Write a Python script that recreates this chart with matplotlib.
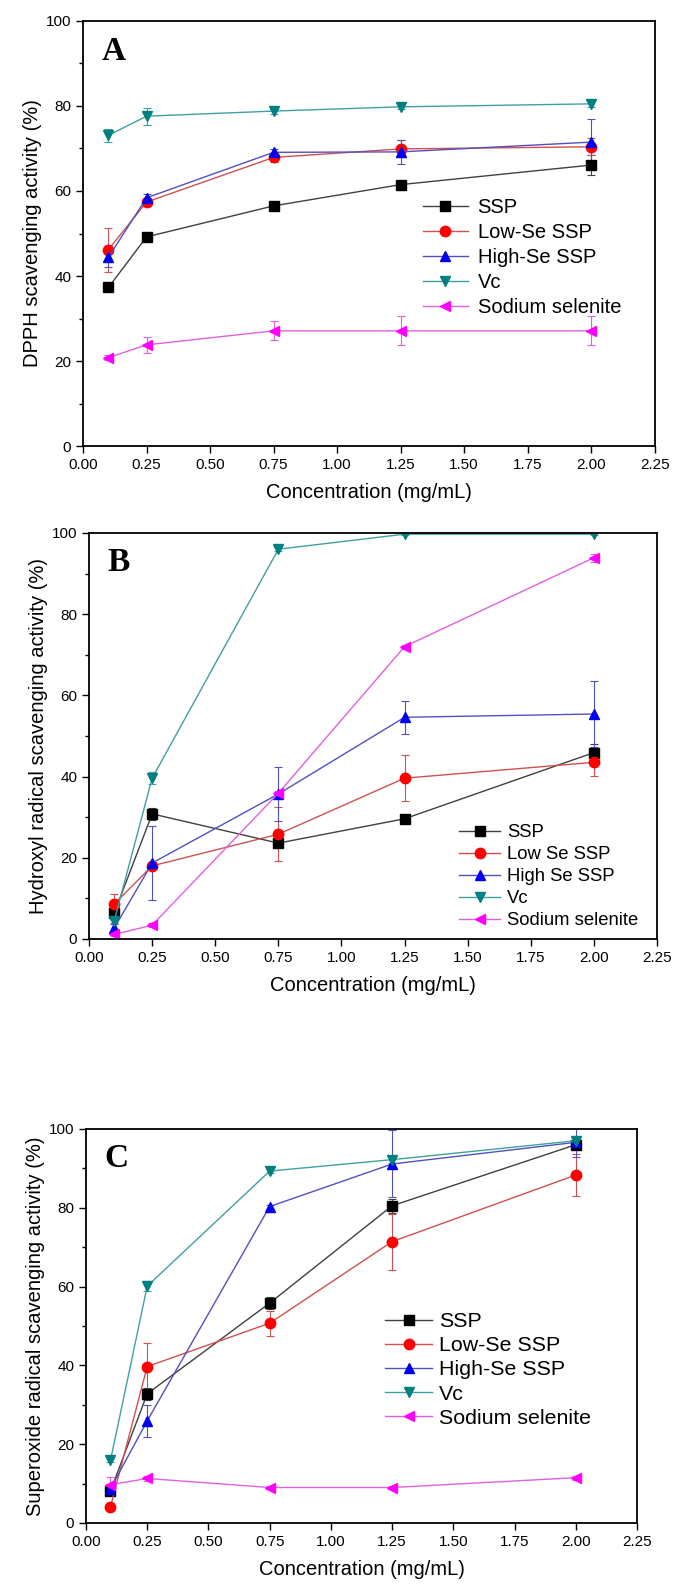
import matplotlib
matplotlib.use("Agg")
import matplotlib.pyplot as plt
from matplotlib.ticker import MultipleLocator, FormatStrFormatter

plt.rcParams['font.family'] = ['Liberation Sans', 'DejaVu Sans']

conc = [0.1, 0.25, 0.75, 1.25, 2.0]

# panel A - DPPH
a_ssp = [37.3, 49.2, 56.5, 61.5, 66.1]
a_ssp_err = [0.8, 1.0, 0.8, 0.8, 2.4]
a_low = [46.2, 57.4, 67.9, 69.9, 70.4]
a_low_err = [5.2, 1.0, 1.0, 2.0, 2.0]
a_high = [44.4, 58.4, 69.1, 69.2, 71.5]
a_high_err = [2.2, 1.0, 0.8, 2.9, 5.5]
a_vc = [73.1, 77.6, 78.8, 79.8, 80.5]
a_vc_err = [1.5, 2.0, 0.6, 0.6, 0.8]
a_na = [20.8, 23.8, 27.1, 27.1, 27.1]
a_na_err = [0.6, 1.8, 2.2, 3.4, 3.4]

# panel B - hydroxyl
b_ssp = [6.4, 30.8, 23.6, 29.6, 45.9]
b_ssp_err = [1.5, 1.5, 0.8, 0.8, 2.0]
b_low = [8.6, 18.0, 25.8, 39.6, 43.5]
b_low_err = [2.5, 1.0, 6.6, 5.7, 3.4]
b_high = [2.7, 18.7, 35.7, 54.6, 55.4]
b_high_err = [1.0, 9.2, 6.6, 4.1, 8.1]
b_vc = [4.5, 39.6, 96.0, 99.7, 99.7]
b_vc_err = [0.5, 1.5, 0.5, 0.3, 0.3]
b_na = [1.1, 3.4, 35.9, 72.0, 93.9]
b_na_err = [0.3, 0.5, 0.5, 0.5, 1.0]

# panel C - superoxide
c_ssp = [8.1, 32.8, 55.8, 80.5, 96.0]
c_ssp_err = [1.0, 1.5, 1.5, 1.8, 1.0]
c_low = [4.1, 39.7, 50.7, 71.4, 88.3]
c_low_err = [0.5, 6.1, 3.2, 7.1, 5.4]
c_high = [8.7, 25.9, 80.3, 91.1, 96.6]
c_high_err = [1.0, 4.0, 0.5, 8.5, 3.8]
c_vc = [15.9, 60.1, 89.3, 92.2, 97.0]
c_vc_err = [0.5, 1.2, 0.5, 0.8, 1.0]
c_na = [9.7, 11.3, 9.0, 9.0, 11.5]
c_na_err = [2.0, 0.6, 0.3, 0.3, 0.5]

names_A = ['SSP', 'Low-Se SSP', 'High-Se SSP', 'Vc', 'Sodium selenite']
names_B = ['SSP', 'Low Se SSP', 'High Se SSP', 'Vc', 'Sodium selenite']
names_C = names_A

colors = ['black', '#ff0000', '#0000ee', '#008080', '#ff00ff']
linecolors = ['#404040', '#d05050', '#5050c0', '#40a0a0', '#e060e0']
markers = ['s', 'o', '^', 'v', '<']

fig = plt.figure(figsize=(6.75, 15.89), dpi=100)

# rect, letter, ylabel, data, errors, names, legend anchor, legend font, spacing, text pad
panels = [
    ([0.123, 0.7193, 0.847, 0.2675], 'A', 'DPPH scavenging activity (%)',
     [a_ssp, a_low, a_high, a_vc, a_na],
     [a_ssp_err, a_low_err, a_high_err, a_vc_err, a_na_err], names_A,
     (0.595, 0.583), 14.5, 0.29, 0.5),
    ([0.1319, 0.4091, 0.8415, 0.2555], 'B', 'Hydroxyl radical scavenging activity (%)',
     [b_ssp, b_low, b_high, b_vc, b_na],
     [b_ssp_err, b_low_err, b_high_err, b_vc_err, b_na_err], names_B,
     (0.652, 0.283), 13.3, 0.275, 0.4),
    ([0.1274, 0.04154, 0.8163, 0.248], 'C', 'Superoxide radical scavenging activity (%)',
     [c_ssp, c_low, c_high, c_vc, c_na],
     [c_ssp_err, c_low_err, c_high_err, c_vc_err, c_na_err], names_C,
     (0.543, 0.535), 15.4, 0.24, 0.3),
]

for rect, letter, ylab, series, errs, names, legpos, lfs, lsp, tpad in panels:
    ax = fig.add_axes(rect)
    handles = []
    for i in range(5):
        cont = ax.errorbar(conc, series[i], yerr=errs[i], color=linecolors[i], lw=1.0,
                           elinewidth=0.8, capsize=3, capthick=0.8,
                           marker=markers[i], ms=7.5, mfc=colors[i], mec=colors[i],
                           label=names[i])
        handles.append(cont[0])
    ax.set_xlim(0, 2.25)
    ax.set_ylim(0, 100)
    ax.xaxis.set_major_locator(MultipleLocator(0.25))
    ax.xaxis.set_major_formatter(FormatStrFormatter('%.2f'))
    ax.yaxis.set_major_locator(MultipleLocator(20))
    ax.yaxis.set_minor_locator(MultipleLocator(10))
    ax.tick_params(direction='out', labelsize=11, length=5, width=1)
    ax.tick_params(which='minor', direction='out', length=3, width=1)
    for s in ax.spines.values():
        s.set_linewidth(1.3)
    ax.set_xlabel('Concentration (mg/mL)', fontsize=14.5, labelpad=8)
    ax.set_ylabel(ylab, fontsize=14.5, labelpad=3)
    ax.text(0.033, 0.965, letter, transform=ax.transAxes, va='top', ha='left',
            fontsize=24, fontweight='bold', family='Liberation Serif')
    ax.legend(handles=handles, labels=names, loc='upper left', bbox_to_anchor=legpos,
              frameon=False, fontsize=lfs, labelspacing=lsp, handlelength=2.2,
              handletextpad=tpad, borderaxespad=0, borderpad=0)

fig.savefig('out.png', dpi=100)
